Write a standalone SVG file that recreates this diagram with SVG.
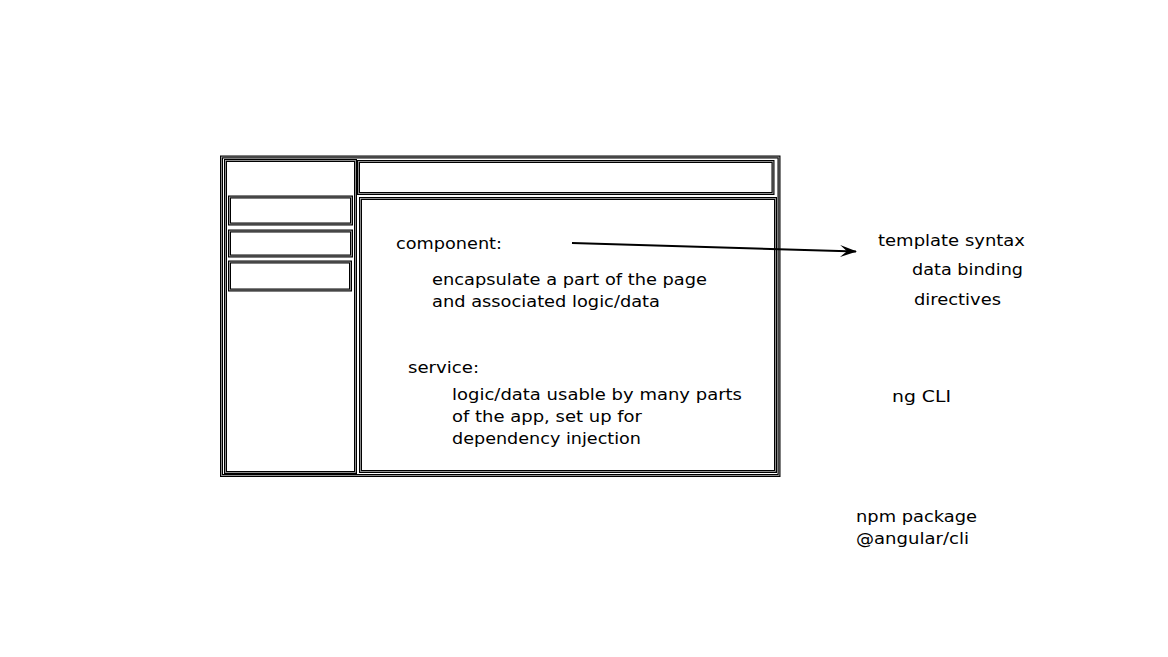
<svg xmlns="http://www.w3.org/2000/svg" width="1168" height="657" viewBox="0 0 1168 657">
  <style>
    .box { fill: none; stroke: #000; stroke-width: 3; }
    .box-core { fill: none; stroke: #b0b0b0; stroke-width: 0.8; }
    .lbl { font-family: "DejaVu Sans", Verdana, sans-serif; font-size: 15px; fill: #000; }
    .wire { fill: none; stroke: #000; stroke-width: 2; }
  </style>
  <defs>
    <marker id="head" viewBox="0 0 17 12" refX="16" refY="6" markerWidth="17" markerHeight="12" markerUnits="userSpaceOnUse" orient="auto">
      <path d="M0,0 L17,6 L0,12 L7,6 z" fill="#000"/>
    </marker>
  </defs>
  <rect width="1168" height="657" fill="#fff"/>

  <!-- page wireframe -->
  <g id="page-frame">
    <rect class="box" x="221.5" y="157" width="557.5" height="318.5"/>
    <rect class="box-core" x="221.5" y="157" width="557.5" height="318.5"/>
  </g>
  <g id="sidebar">
    <rect class="box" x="225.5" y="160.5" width="130" height="312"/>
    <rect class="box-core" x="225.5" y="160.5" width="130" height="312"/>
  </g>
  <g id="sidebar-item-1">
    <rect class="box" x="229.5" y="197" width="122" height="27"/>
    <rect class="box-core" x="229.5" y="197" width="122" height="27"/>
  </g>
  <g id="sidebar-item-2">
    <rect class="box" x="229.5" y="231" width="122" height="25"/>
    <rect class="box-core" x="229.5" y="231" width="122" height="25"/>
  </g>
  <g id="sidebar-item-3">
    <rect class="box" x="229.5" y="262" width="121" height="28"/>
    <rect class="box-core" x="229.5" y="262" width="121" height="28"/>
  </g>
  <g id="top-bar">
    <rect class="box" x="358.5" y="161.5" width="414.5" height="32"/>
    <rect class="box-core" x="358.5" y="161.5" width="414.5" height="32"/>
  </g>
  <g id="main-area">
    <rect class="box" x="360.5" y="198.5" width="415" height="273"/>
    <rect class="box-core" x="360.5" y="198.5" width="415" height="273"/>
  </g>

  <!-- component / service notes -->
  <g id="component">
    <text class="lbl" x="396" y="249" textLength="106" lengthAdjust="spacingAndGlyphs">component:</text>
    <text class="lbl" x="432" y="285" textLength="275" lengthAdjust="spacingAndGlyphs">encapsulate a part of the page</text>
    <text class="lbl" x="432" y="306.5" textLength="228" lengthAdjust="spacingAndGlyphs">and associated logic/data</text>
  </g>
  <g id="service">
    <text class="lbl" x="408" y="372.5" textLength="71" lengthAdjust="spacingAndGlyphs">service:</text>
    <text class="lbl" x="452" y="400" textLength="290" lengthAdjust="spacingAndGlyphs">logic/data usable by many parts</text>
    <text class="lbl" x="452" y="422" textLength="190" lengthAdjust="spacingAndGlyphs">of the app, set up for</text>
    <text class="lbl" x="452" y="444" textLength="189" lengthAdjust="spacingAndGlyphs">dependency injection</text>
  </g>

  <!-- side notes -->
  <g id="template">
    <text class="lbl" x="878" y="245.5" textLength="147" lengthAdjust="spacingAndGlyphs">template syntax</text>
    <text class="lbl" x="912" y="274.5" textLength="111" lengthAdjust="spacingAndGlyphs">data binding</text>
    <text class="lbl" x="914" y="304.5" textLength="87" lengthAdjust="spacingAndGlyphs">directives</text>
  </g>
  <g id="cli">
    <text class="lbl" x="892" y="402" textLength="59" lengthAdjust="spacingAndGlyphs">ng CLI</text>
  </g>
  <g id="npm">
    <text class="lbl" x="856" y="522" textLength="121" lengthAdjust="spacingAndGlyphs">npm package</text>
    <text class="lbl" x="856" y="544" textLength="113" lengthAdjust="spacingAndGlyphs">@angular/cli</text>
  </g>

  <g id="connectors">
    <line class="wire" x1="572" y1="243" x2="856" y2="251.5" marker-end="url(#head)"/>
  </g>
</svg>
